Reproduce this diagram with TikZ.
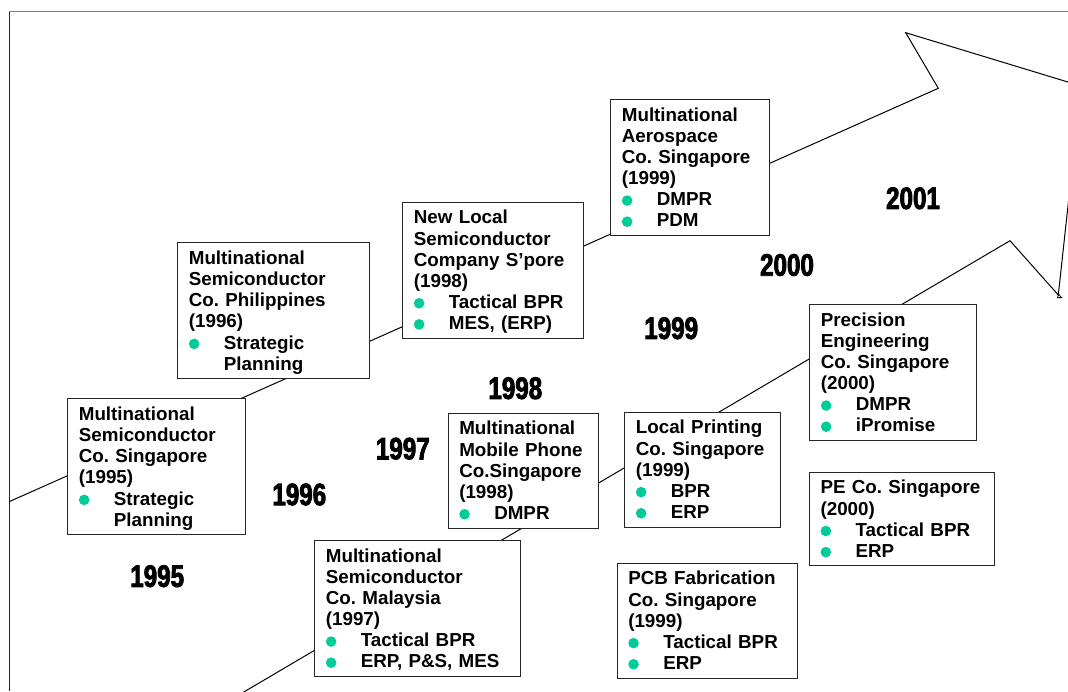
\documentclass[tikz,border=0pt]{standalone}
\usepackage{fontspec}
\setmainfont{Liberation Sans}
\newfontfamily\yearfont[FakeStretch=0.78,BoldFeatures={FakeBold=2.6}]{Liberation Sans}
\definecolor{bulgreen}{RGB}{0,204,153}
\definecolor{framegray}{RGB}{128,128,128}
\frenchspacing
% first-line and last-line struts fix the box padding
\newcommand\toprl{\rule{0pt}{21.7pt}}
\newcommand\botrl{\rule[-8.6pt]{0pt}{8.6pt}}
\newcommand\bul{\makebox[35pt][l]{\tikz[baseline=0pt]\fill[bulgreen] (5.3pt,5.2pt) circle (5.3pt);}}
\newcommand\ind{\hspace*{35pt}}
\begin{document}
\begin{tikzpicture}[x=1pt,y=-1pt,
  company/.style={draw=black!85, line width=1.1pt, fill=white, anchor=north west,
    inner xsep=11pt, inner ysep=0pt, align=left,
    font=\fontsize{18.8}{21.13}\selectfont\bfseries},
  yearlbl/.style={font=\yearfont\fontsize{31}{31}\selectfont\bfseries, inner sep=0pt},
  outline/.style={line width=1pt, black, line join=miter}]
\useasboundingbox (0,0) rectangle (1068,691);
\fill[white] (0,0) rectangle (1068,691);

% page frame
\coordinate (fTL) at (9.3,11.7);
\coordinate (fTR) at (1068,11.7);
\coordinate (fBL) at (9.3,691);
\draw[framegray, line width=1.3pt] (fTL) -- (fTR);
\draw[black!85, line width=1.3pt] (fTL) -- (fBL);

% the big arrow
\begin{scope}
\clip (0,0) rectangle (1068,691);
\coordinate (aStart) at (9.3,501.6);
\coordinate (aNotchIn) at (938.3,88.3);
\coordinate (aBarbTop) at (905.7,32.7);
\coordinate (aTip) at (1081,86);
\coordinate (aBarbBot) at (1058.3,295);
\coordinate (aNotchOut) at (1010,240.7);
\coordinate (aEnd) at (230.2,700);
\draw[outline] (aStart) -- (aNotchIn) -- (aBarbTop) -- (aTip) -- (aBarbBot)
  -- (aNotchOut) -- (aEnd);
\draw[line width=0.8pt] (1058.3,294) -- (1061.6,297.6) -- (1057.6,297.6) -- cycle;
\end{scope}

% company boxes
\node[company, text width=155.4pt] (b95) at (67.3,398.3)
  {\toprl Multinational\\Semiconductor\\Co. Singapore\\(1995)\\\bul Strategic\\\ind Planning\botrl};
\node[company, text width=170pt] (b96) at (177.3,242.3)
  {\toprl Multinational\\Semiconductor\\Co. Philippines\\(1996)\\\bul Strategic\\\ind Planning\botrl};
\node[company, text width=159pt] (b98a) at (402.3,201.7)
  {\toprl New Local\\Semiconductor\\\mbox{Company S’pore}\\(1998)\\\bul Tactical BPR\\\bul MES, (ERP)\botrl};
\node[company, text width=136.4pt] (b99a) at (610.3,99)
  {\toprl Multinational\\Aerospace\\Co. Singapore\\(1999)\\\bul DMPR\\\bul PDM\botrl};
\node[company, text width=183.7pt] (b97) at (314.3,540)
  {\toprl Multinational\\Semiconductor\\Co. Malaysia\\(1997)\\\bul Tactical BPR\\\bul ERP, P\&S, MES\botrl};
\node[company, text width=128.6pt] (b98b) at (447.7,412.7)
  {\toprl Multinational\\Mobile Phone\\Co.Singapore\\(1998)\\\bul DMPR\botrl};
\node[company, text width=133.4pt] (b99b) at (624.3,411.7)
  {\toprl Local Printing\\Co. Singapore\\(1999)\\\bul BPR\\\bul ERP\botrl};
\node[company, text width=158pt] (b99c) at (616.7,562.7)
  {\toprl PCB Fabrication\\Co. Singapore\\(1999)\\\bul Tactical BPR\\\bul ERP\botrl};
\node[company, text width=144.7pt] (b00a) at (809.3,304)
  {\toprl Precision\\Engineering\\Co. Singapore\\(2000)\\\bul DMPR\\\bul iPromise\botrl};
\node[company, text width=163.3pt] (b00b) at (809,471.7)
  {\toprl \mbox{PE Co. Singapore}\\(2000)\\\bul Tactical BPR\\\bul ERP\botrl};

% year labels
\node[yearlbl] (y95) at (157.2,576.2) {1995};
\node[yearlbl] (y96) at (299.3,494.5) {1996};
\node[yearlbl] (y97) at (402.8,448.7) {1997};
\node[yearlbl] (y98) at (515.3,388.3) {1998};
\node[yearlbl] (y99) at (671.2,328.3) {1999};
\node[yearlbl] (y00) at (787,265) {2000};
\node[yearlbl] (y01) at (913,198.3) {2001};
\end{tikzpicture}
\end{document}
